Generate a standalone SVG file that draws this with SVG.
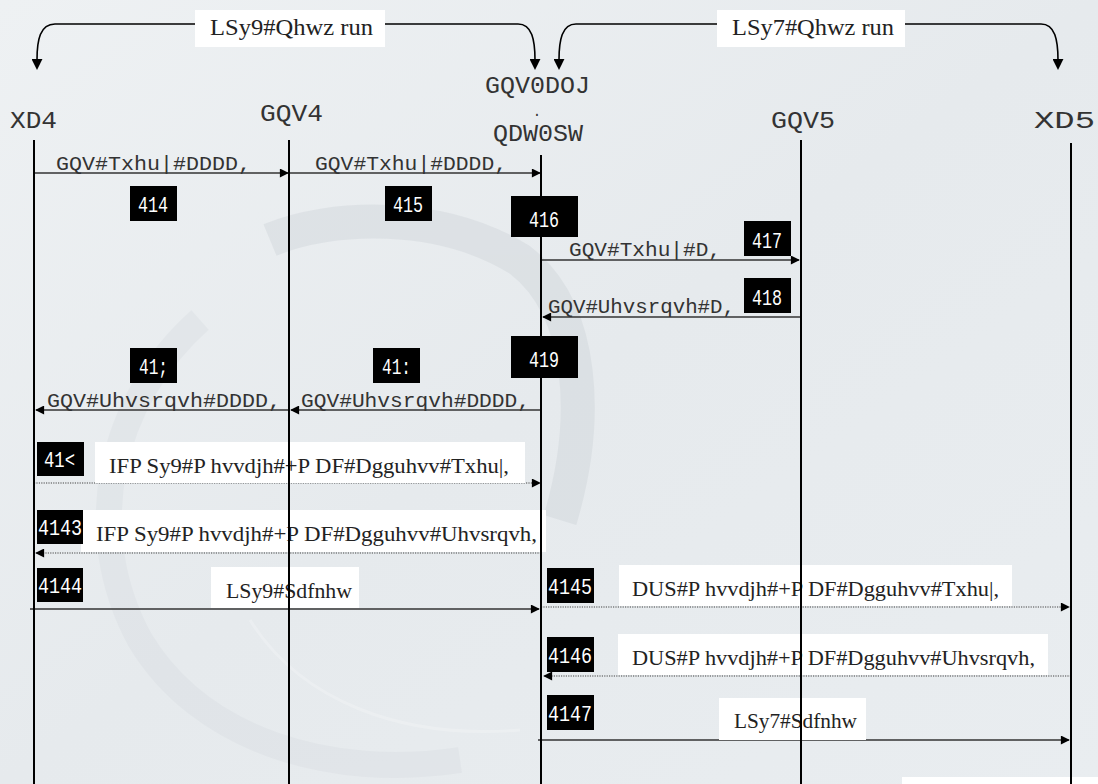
<svg xmlns="http://www.w3.org/2000/svg" width="1098" height="784" viewBox="0 0 1098 784">
<defs>
<marker id="ah" viewBox="0 0 10 10" refX="9" refY="5" markerWidth="10" markerHeight="9" markerUnits="userSpaceOnUse" orient="auto"><path d="M0,0 L10,5 L0,10 Z" fill="#000"/></marker>
<marker id="ahb" viewBox="0 0 10 10" refX="1" refY="5" markerWidth="11" markerHeight="11" markerUnits="userSpaceOnUse" orient="auto"><path d="M0,0 L10,5 L0,10 Z" fill="#000"/></marker>
<linearGradient id="bg" x1="0" y1="0" x2="1" y2="1"><stop offset="0" stop-color="#eef1f3"/><stop offset="0.5" stop-color="#e6eaed"/><stop offset="1" stop-color="#e9edf0"/></linearGradient>
</defs>
<style>
.life{stroke:#000;stroke-width:2;fill:none}
.msg{stroke:#333;stroke-width:1.4;fill:none;marker-end:url(#ah)}
.dot{stroke:#444;stroke-width:1.2;stroke-dasharray:1.2 1.2;fill:none;marker-end:url(#ah)}
.brk{stroke:#000;stroke-width:1.6;fill:none;marker-end:url(#ahb)}
.wb{fill:#fff}
.bd{fill:#000}
.bt{fill:#fff;font-family:"Liberation Mono",monospace;font-size:22px}
.t{fill:#333;font-family:"Liberation Mono",monospace;font-size:21px}
.hd{fill:#333;font-family:"Liberation Mono",monospace;font-size:23px}
.ts{fill:#222;font-family:"Liberation Serif",serif;font-size:23px}
.tl{fill:#222;font-family:"Liberation Serif",serif;font-size:21px}
</style>
<rect x="0" y="0" width="1098" height="784" fill="url(#bg)"/>
<g opacity="0.35">
<path d="M270,240 C330,215 440,210 520,260 C585,310 590,420 560,520" stroke="#c9cfd4" stroke-width="34" fill="none"/>
<path d="M200,320 C110,400 80,530 140,640 C200,740 330,780 460,760" stroke="#d6dbe0" stroke-width="26" fill="none"/>
<path d="M250,620 C300,700 400,740 520,730" stroke="#f6f8f9" stroke-width="3" fill="none"/>
</g>
<g id="connectors">
<path class="brk" d="M195,24 H55 C40,24 37,40 37,60"/>
<path class="brk" d="M385,24 H518 C532,24 535,40 535,60"/>
<path class="brk" d="M717,24 H576 C562,24 559,40 559,60"/>
<path class="brk" d="M905,24 H1041 C1055,24 1058,40 1058,60"/>
<line class="msg" x1="34" y1="173" x2="288" y2="173"/>
<line class="msg" x1="289" y1="173" x2="540" y2="173"/>
<line class="msg" x1="541" y1="260" x2="799" y2="260"/>
<line class="msg" x1="801" y1="317" x2="543" y2="317"/>
<line class="msg" x1="541" y1="410" x2="291" y2="410"/>
<line class="msg" x1="289" y1="410" x2="36" y2="410"/>
<line class="dot" x1="34" y1="483" x2="540" y2="483"/>
<line class="dot" x1="541" y1="553" x2="36" y2="553"/>
<line class="msg" x1="30" y1="609" x2="539" y2="609"/>
<line class="dot" x1="541" y1="607" x2="1069" y2="607"/>
<line class="dot" x1="1071" y1="676" x2="544" y2="676"/>
<line class="msg" x1="538" y1="740" x2="1069" y2="740"/>
</g>
<g id="labels">
<rect class="wb" x="195" y="10" width="190" height="37"/>
<text class="ts" x="210" y="35" textLength="163" lengthAdjust="spacingAndGlyphs">LSy9#Qhwz run</text>
<rect class="wb" x="717" y="10" width="188" height="37"/>
<text class="ts" x="732" y="35" textLength="162" lengthAdjust="spacingAndGlyphs">LSy7#Qhwz run</text>
<text class="t" x="56" y="170" textLength="195" lengthAdjust="spacingAndGlyphs">GQV#Txhu|#DDDD,</text>
<text class="t" x="315" y="170" textLength="192" lengthAdjust="spacingAndGlyphs">GQV#Txhu|#DDDD,</text>
<text class="t" x="569" y="256" textLength="152" lengthAdjust="spacingAndGlyphs">GQV#Txhu|#D,</text>
<text class="t" x="548" y="313" textLength="187" lengthAdjust="spacingAndGlyphs">GQV#Uhvsrqvh#D,</text>
<text class="t" x="47" y="407" textLength="234" lengthAdjust="spacingAndGlyphs">GQV#Uhvsrqvh#DDDD,</text>
<text class="t" x="301" y="407" textLength="229" lengthAdjust="spacingAndGlyphs">GQV#Uhvsrqvh#DDDD,</text>
<rect class="wb" x="95" y="442" width="430" height="41"/>
<text class="tl" x="109" y="473" textLength="400" lengthAdjust="spacingAndGlyphs">IFP Sy9#P hvvdjh#+P DF#Dgguhvv#Txhu|,</text>
<rect class="wb" x="81" y="510" width="465" height="42"/>
<text class="tl" x="96" y="541" textLength="441" lengthAdjust="spacingAndGlyphs">IFP Sy9#P hvvdjh#+P DF#Dgguhvv#Uhvsrqvh,</text>
<rect class="wb" x="211" y="567" width="148" height="41"/>
<text class="tl" x="226" y="598" textLength="126" lengthAdjust="spacingAndGlyphs">LSy9#Sdfnhw</text>
<rect class="wb" x="619" y="565" width="393" height="41"/>
<text class="tl" x="632" y="596" textLength="367" lengthAdjust="spacingAndGlyphs">DUS#P hvvdjh#+P DF#Dgguhvv#Txhu|,</text>
<rect class="wb" x="618" y="634" width="430" height="41"/>
<text class="tl" x="632" y="665" textLength="403" lengthAdjust="spacingAndGlyphs">DUS#P hvvdjh#+P DF#Dgguhvv#Uhvsrqvh,</text>
<rect class="wb" x="719" y="698" width="147" height="42"/>
<text class="tl" x="734" y="728" textLength="123" lengthAdjust="spacingAndGlyphs">LSy7#Sdfnhw</text>
<rect class="wb" x="902" y="777" width="196" height="7"/>
</g>
<g id="node-XD4">
<text class="hd" x="10" y="128" textLength="47" lengthAdjust="spacingAndGlyphs">XD4</text>
<line class="life" x1="34" y1="140" x2="34" y2="784"/>
</g>
<g id="node-GQV4">
<text class="hd" x="260" y="121" textLength="63" lengthAdjust="spacingAndGlyphs">GQV4</text>
<line class="life" x1="289" y1="140" x2="289" y2="784"/>
</g>
<g id="node-GQV0DOJ">
<text class="hd" x="485" y="93" textLength="105" lengthAdjust="spacingAndGlyphs">GQV0DOJ</text>
<text x="537" y="116" text-anchor="middle" font-family="Liberation Mono, monospace" font-size="14" fill="#333">.</text>
<text class="hd" x="493" y="141" textLength="90" lengthAdjust="spacingAndGlyphs">QDW0SW</text>
<line class="life" x1="541" y1="155" x2="541" y2="784"/>
</g>
<g id="node-GQV5">
<text class="hd" x="771" y="128" textLength="64" lengthAdjust="spacingAndGlyphs">GQV5</text>
<line class="life" x1="801" y1="140" x2="801" y2="784"/>
</g>
<g id="node-XD5">
<text class="hd" x="1034" y="128" textLength="61" lengthAdjust="spacingAndGlyphs">XD5</text>
<line class="life" x1="1071" y1="143" x2="1071" y2="784"/>
</g>
<g id="steps">
<g id="s414"><rect class="bd" x="130" y="186" width="47" height="35"/><text class="bt" x="138" y="212" textLength="30" lengthAdjust="spacingAndGlyphs">414</text></g>
<g id="s415"><rect class="bd" x="385" y="186" width="47" height="35"/><text class="bt" x="393" y="212" textLength="30" lengthAdjust="spacingAndGlyphs">415</text></g>
<g id="s416"><rect class="bd" x="511" y="196" width="67" height="41"/><text class="bt" x="529" y="227" textLength="30" lengthAdjust="spacingAndGlyphs">416</text></g>
<g id="s417"><rect class="bd" x="744" y="221" width="47" height="35"/><text class="bt" x="752" y="248" textLength="30" lengthAdjust="spacingAndGlyphs">417</text></g>
<g id="s418"><rect class="bd" x="744" y="278" width="47" height="35"/><text class="bt" x="752" y="305" textLength="30" lengthAdjust="spacingAndGlyphs">418</text></g>
<g id="s419"><rect class="bd" x="511" y="336" width="67" height="42"/><text class="bt" x="529" y="367" textLength="30" lengthAdjust="spacingAndGlyphs">419</text></g>
<g id="s41a"><rect class="bd" x="130" y="348" width="47" height="35"/><text class="bt" x="139" y="374" textLength="29" lengthAdjust="spacingAndGlyphs">41;</text></g>
<g id="s41b"><rect class="bd" x="373" y="348" width="47" height="35"/><text class="bt" x="382" y="374" textLength="29" lengthAdjust="spacingAndGlyphs">41:</text></g>
<g id="s41c"><rect class="bd" x="37" y="442" width="47" height="34"/><text class="bt" x="44" y="467" textLength="31" lengthAdjust="spacingAndGlyphs">41&lt;</text></g>
<g id="s4143"><rect class="bd" x="37" y="510" width="46" height="34"/><text class="bt" x="38" y="535" textLength="44" lengthAdjust="spacingAndGlyphs">4143</text></g>
<g id="s4144"><rect class="bd" x="37" y="568" width="46" height="34"/><text class="bt" x="38" y="593" textLength="44" lengthAdjust="spacingAndGlyphs">4144</text></g>
<g id="s4145"><rect class="bd" x="547" y="568" width="47" height="35"/><text class="bt" x="548" y="594" textLength="44" lengthAdjust="spacingAndGlyphs">4145</text></g>
<g id="s4146"><rect class="bd" x="547" y="637" width="47" height="35"/><text class="bt" x="548" y="663" textLength="44" lengthAdjust="spacingAndGlyphs">4146</text></g>
<g id="s4147"><rect class="bd" x="547" y="695" width="47" height="35"/><text class="bt" x="548" y="721" textLength="44" lengthAdjust="spacingAndGlyphs">4147</text></g>
</g>
</svg>
